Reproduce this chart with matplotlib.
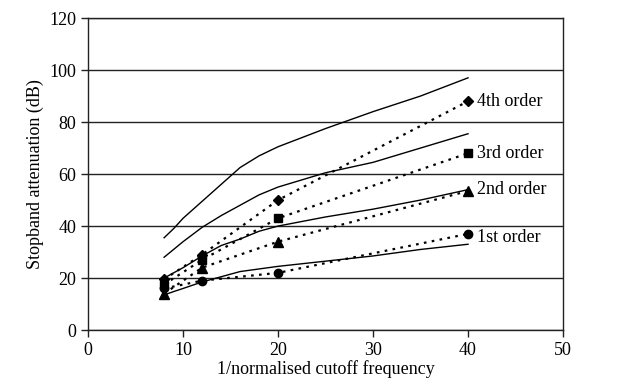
import numpy as np
import matplotlib.pyplot as plt

plt.rcParams['font.family'] = ['Liberation Serif', 'DejaVu Serif']

# simulated (solid) curves
x_sim = [8, 9, 10, 12, 14, 16, 18, 20, 25, 30, 35, 40]
sim_1st = [13.5, 14.8, 16, 18.5, 20.5, 22.5, 23.5, 24.5, 26.5, 28.5, 31, 33]
sim_2nd = [20, 22, 24, 28.5, 32.5, 35, 38, 40, 43.5, 46.5, 50, 54]
sim_3rd = [28, 31, 34, 39.5, 44, 48, 52, 55, 60.5, 64.5, 70, 75.5]
sim_4th = [35.5, 39, 43, 49.5, 56, 62.5, 67, 70.5, 77.5, 84, 90, 97]

# measured (dotted + markers)
x_meas = [8, 12, 20, 40]
meas_1st = [16, 19, 22, 37]
meas_2nd = [14, 24, 34, 53.5]
meas_3rd = [17.5, 27, 43, 68]
meas_4th = [19.5, 29, 50, 88]

labels = ['1st order', '2nd order', '3rd order', '4th order']
label_y = [35.5, 54, 68, 88]
markers = ['o', '^', 's', 'D']
msizes = [6, 6.5, 6, 5]

fig = plt.figure(figsize=(6.34, 3.92), dpi=100)
ax = fig.add_axes([0.139, 0.158, 0.749, 0.796])

for sim in [sim_1st, sim_2nd, sim_3rd, sim_4th]:
    ax.plot(x_sim, sim, color='black', lw=1.0, zorder=3)

for meas, m, ms, lab, ly in zip([meas_1st, meas_2nd, meas_3rd, meas_4th],
                                markers, msizes, labels, label_y):
    ax.plot(x_meas, meas, color='black', lw=1.6, linestyle=(0, (1.2, 2.4)),
            marker=m, markersize=ms, zorder=4)
    ax.text(40.9, ly, lab, fontsize=13, va='center', ha='left')

ax.set_xlim(0, 50)
ax.set_ylim(0, 120)
ax.set_xticks(np.arange(0, 51, 10))
ax.set_yticks(np.arange(0, 121, 20))
ax.yaxis.grid(True, color='#222222', lw=1.0)
ax.set_axisbelow(True)
for s in ax.spines.values():
    s.set_color('#222222')
    s.set_linewidth(1.0)
ax.tick_params(direction='out', length=5, width=1.0, labelsize=13, color='#222222')
ax.set_xlabel('1/normalised cutoff frequency', fontsize=13, labelpad=1)
ax.set_ylabel('Stopband attenuation (dB)', fontsize=13, labelpad=4)

fig.savefig('out.png', dpi=100)
